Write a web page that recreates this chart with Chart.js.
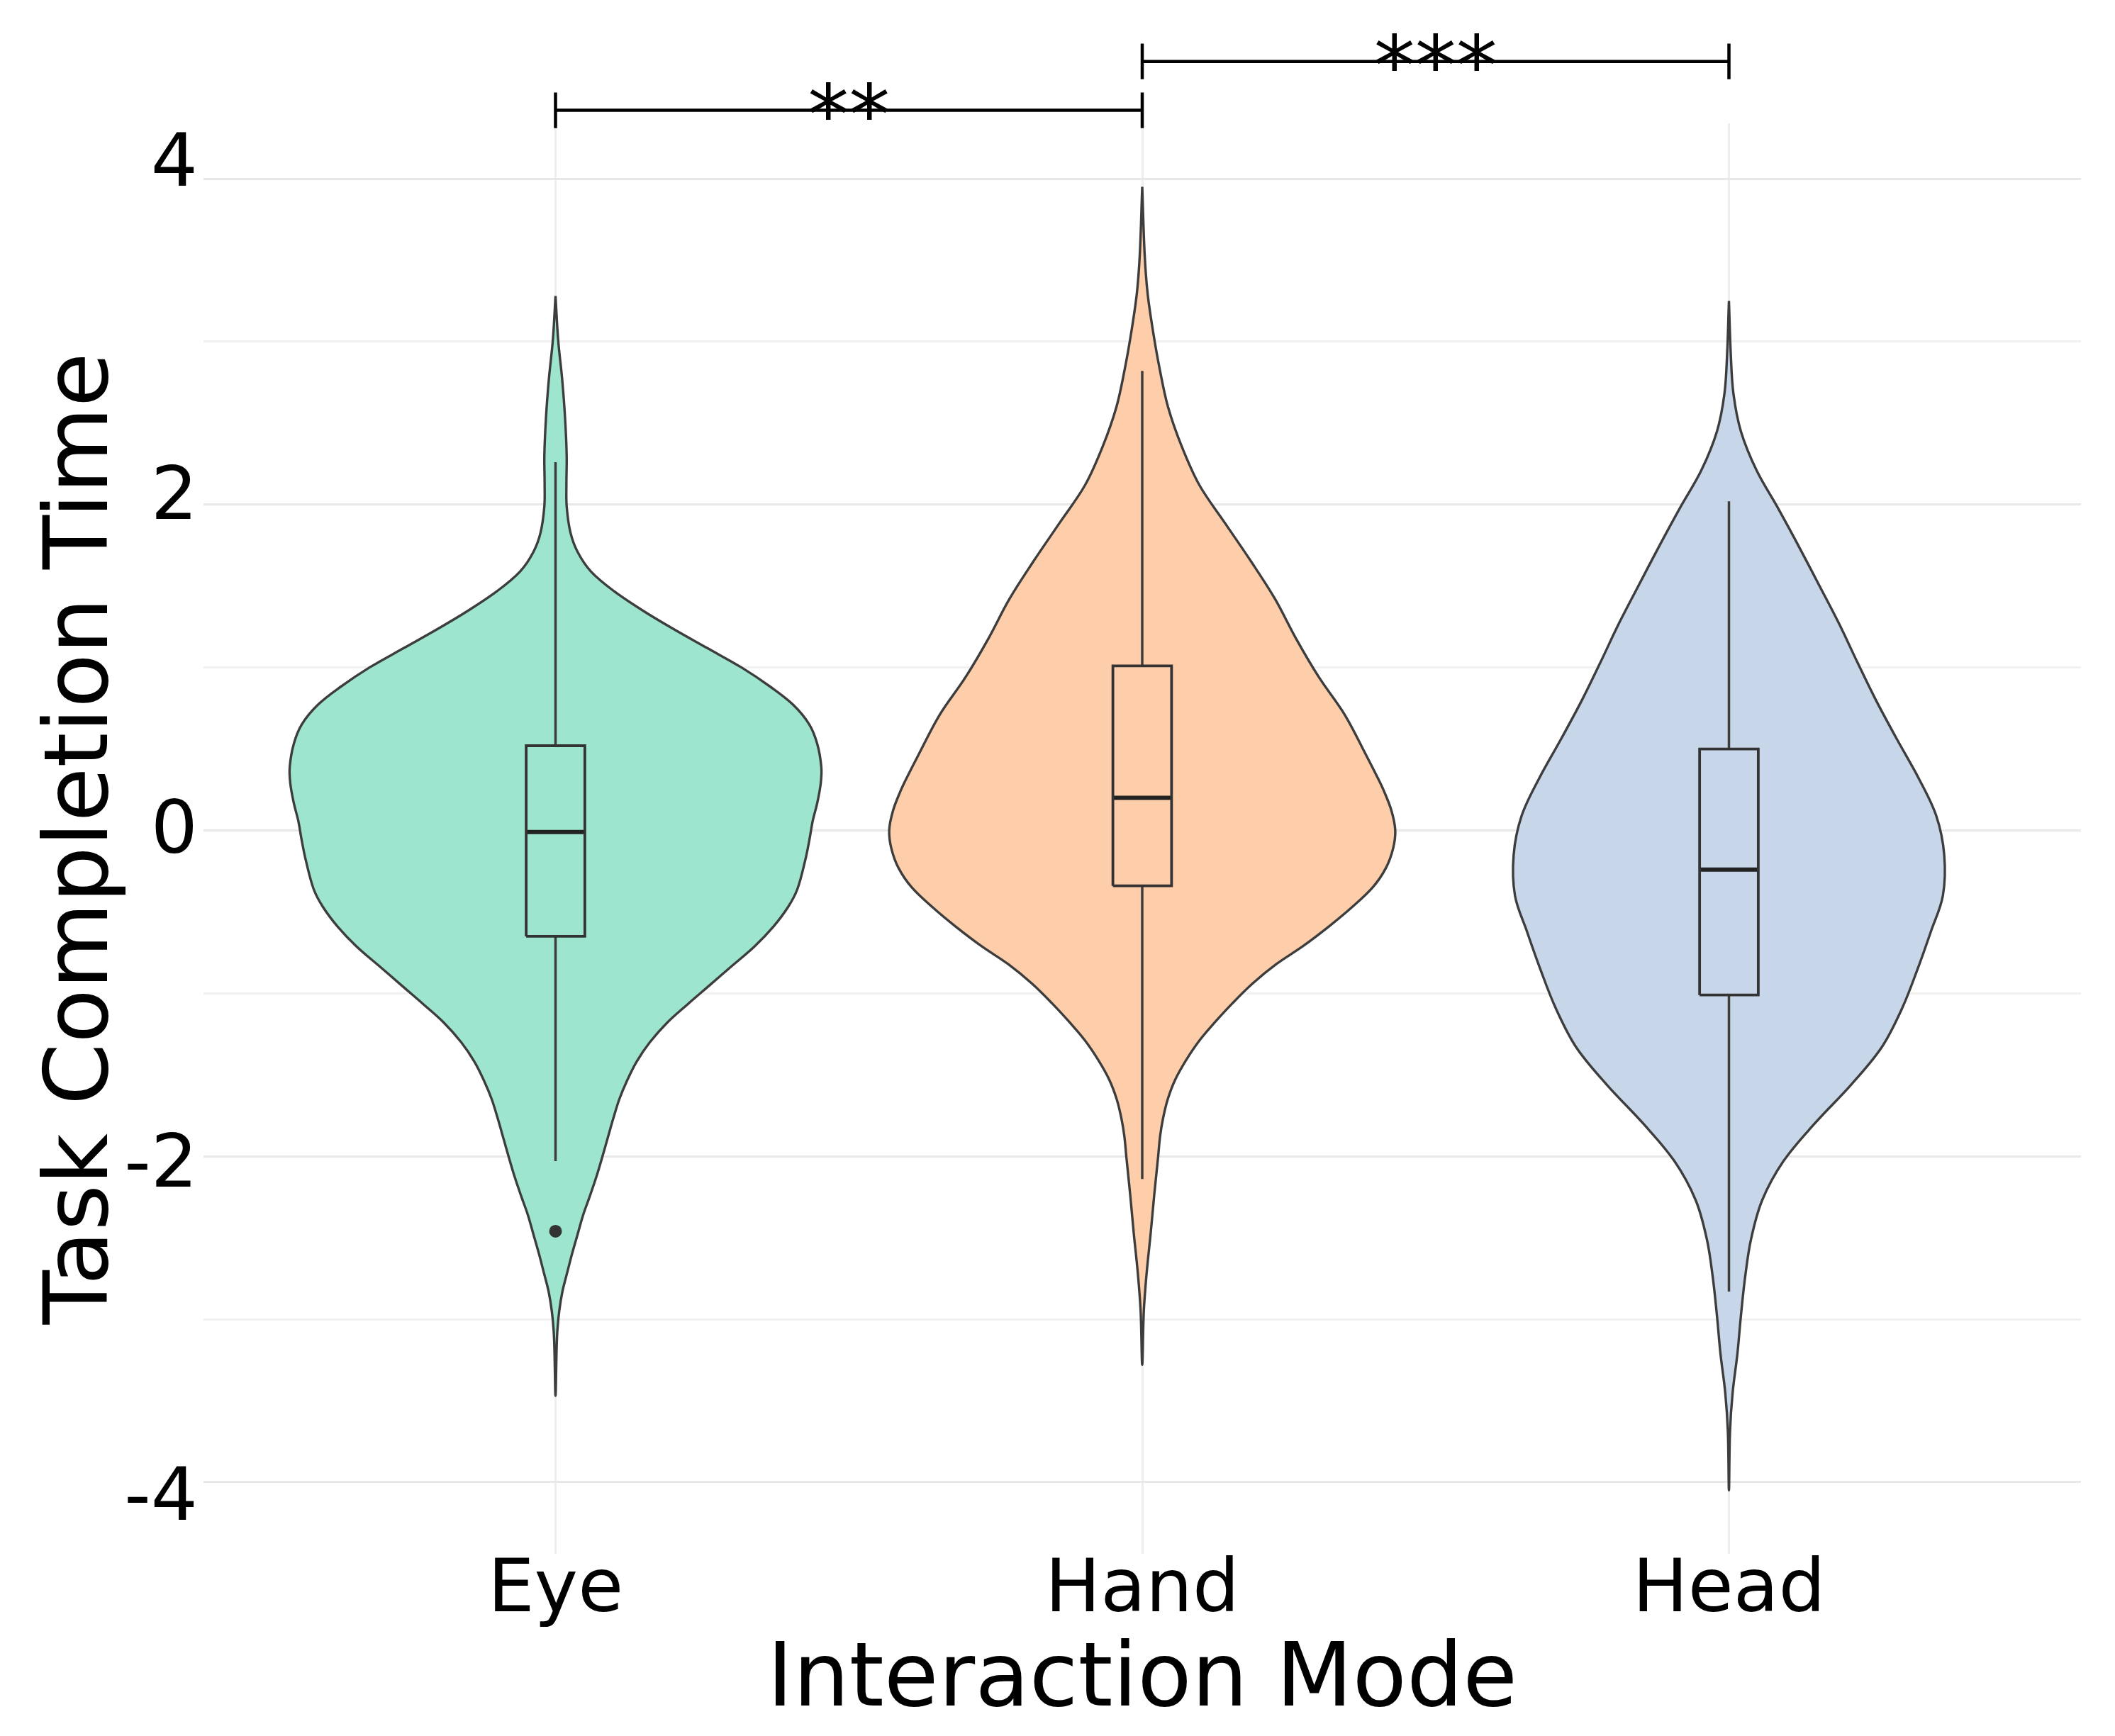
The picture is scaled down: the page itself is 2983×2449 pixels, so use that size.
<!DOCTYPE html>
<html>
<head>
<meta charset="utf-8">
<title>Task Completion Time by Interaction Mode</title>
<script src="https://cdn.jsdelivr.net/npm/chart.js@4.4.1/dist/chart.umd.min.js"></script>
<style>
  html, body { margin: 0; padding: 0; background: #fff; overflow: hidden; }
</style>
</head>
<body>
<canvas id="violinChart" width="2983" height="2449"></canvas>
<script>
// categories and axis ticks
const categories = ['Eye', 'Hand', 'Head'];
const yTicks = [-4, -3, -2, -1, 0, 1, 2, 3, 4];

// violin outlines: y levels (top -> bottom) and relative density at each level
const eyeLevels = [3.28, 3.01, 2.77, 2.53, 2.30, 2.13, 1.99, 1.83, 1.71, 1.59, 1.47, 1.35, 1.24, 1.12, 1.00, 0.88, 0.77, 0.65, 0.53, 0.39, 0.29, 0.17, 0.06, -0.06, -0.18, -0.36, -0.47, -0.59, -0.71, -0.83, -0.95, -1.07, -1.18, -1.30, -1.42, -1.54, -1.65, -1.77, -1.89, -2.01, -2.13, -2.25, -2.36, -2.48, -2.60, -2.72, -2.83, -2.95, -3.07, -3.19, -3.47];
const eyeDensity = [0, 0.010, 0.025, 0.036, 0.042, 0.041, 0.042, 0.056, 0.083, 0.133, 0.219, 0.328, 0.440, 0.570, 0.700, 0.810, 0.895, 0.955, 0.985, 1.0, 0.998, 0.985, 0.968, 0.955, 0.940, 0.910, 0.875, 0.820, 0.750, 0.665, 0.580, 0.495, 0.420, 0.355, 0.305, 0.268, 0.240, 0.217, 0.196, 0.175, 0.153, 0.128, 0.104, 0.083, 0.062, 0.043, 0.026, 0.014, 0.007, 0.004, 0];

const handLevels = [3.95, 3.54, 3.30, 3.07, 2.83, 2.60, 2.36, 2.12, 1.89, 1.65, 1.42, 1.18, 0.94, 0.71, 0.47, 0.31, 0.24, 0.12, 0.00, -0.11, -0.23, -0.35, -0.47, -0.59, -0.71, -0.82, -0.94, -1.06, -1.18, -1.29, -1.41, -1.53, -1.65, -1.77, -1.88, -2.00, -2.24, -2.47, -2.71, -2.95, -3.28];
const handDensity = [0, 0.009, 0.020, 0.040, 0.066, 0.097, 0.148, 0.215, 0.310, 0.410, 0.500, 0.578, 0.665, 0.762, 0.840, 0.890, 0.910, 0.938, 0.952, 0.944, 0.917, 0.867, 0.790, 0.702, 0.605, 0.505, 0.415, 0.340, 0.272, 0.215, 0.165, 0.124, 0.096, 0.078, 0.067, 0.060, 0.045, 0.032, 0.017, 0.006, 0];

const headLevels = [3.25, 2.92, 2.68, 2.45, 2.21, 1.98, 1.74, 1.50, 1.27, 1.03, 0.80, 0.56, 0.32, 0.09, -0.15, -0.40, -0.62, -0.85, -1.09, -1.33, -1.56, -1.80, -2.03, -2.27, -2.51, -2.74, -2.98, -3.21, -3.45, -3.69, -4.05];
const headDensity = [0, 0.007, 0.017, 0.045, 0.104, 0.184, 0.264, 0.341, 0.414, 0.484, 0.553, 0.632, 0.714, 0.780, 0.810, 0.805, 0.760, 0.710, 0.652, 0.575, 0.460, 0.322, 0.205, 0.125, 0.083, 0.061, 0.045, 0.032, 0.014, 0.004, 0];

// box plot stats (Eye, Hand, Head)
const boxQ1 = [-0.65, -0.34, -1.01];
const boxMedian = [-0.01, 0.20, -0.24];
const boxQ3 = [0.52, 1.01, 0.50];
const whiskerLow = [-2.03, -2.14, -2.83];
const whiskerHigh = [2.26, 2.82, 2.02];

// outliers
const outlierCategory = [0];
const outlierValue = [-2.46];

// significance brackets
const sigPairs = [[0, 1], [1, 2]];
const sigLabels = ['**', '***'];
const sigLevels = [4.42, 4.72];

// styles
const FONT = "'DejaVu Sans', Verdana, sans-serif";
const FILL_COLORS = ['#9de5cf', '#fecdaa', '#c8d6ea'];
const VIOLIN_HALF = 0.453;   // half width of the widest violin, in category units
const BOX_HALF = 0.05;
const BRACKET_TICK = 0.109;

const allLevels = [eyeLevels, handLevels, headLevels];
const allDensity = [eyeDensity, handDensity, headDensity];

function violinPoints(center, levels, density) {
    const right = levels.map((v, i) => ({ x: center + density[i] * VIOLIN_HALF, y: v }));
    const left = [];
    for (let i = levels.length - 2; i >= 0; i--) {
        left.push({ x: center - density[i] * VIOLIN_HALF, y: levels[i] });
    }
    return right.concat(left);
}

function buildDatasets() {
    const sets = [];

    categories.forEach((cat, i) => {
        sets.push({
            label: cat + ' violin',
            data: violinPoints(i, allLevels[i], allDensity[i]),
            borderColor: '#3d3d3d',
            borderWidth: 3.4,
            backgroundColor: FILL_COLORS[i],
            fill: 'shape',
            tension: 0.35,
            pointRadius: 0,
            order: 3
        });

        sets.push({
            label: cat + ' box',
            data: [
                { x: i - BOX_HALF, y: boxQ1[i] },
                { x: i + BOX_HALF, y: boxQ1[i] },
                { x: i + BOX_HALF, y: boxQ3[i] },
                { x: i - BOX_HALF, y: boxQ3[i] },
                { x: i - BOX_HALF, y: boxQ1[i] }
            ],
            borderColor: '#333',
            borderWidth: 3.8,
            fill: false,
            tension: 0,
            pointRadius: 0,
            order: 1
        });

        sets.push({
            label: cat + ' median',
            data: [{ x: i - BOX_HALF, y: boxMedian[i] }, { x: i + BOX_HALF, y: boxMedian[i] }],
            borderColor: '#222',
            borderWidth: 6,
            fill: false,
            tension: 0,
            pointRadius: 0,
            order: 1
        });

        sets.push({
            label: cat + ' upper whisker',
            data: [{ x: i, y: boxQ3[i] }, { x: i, y: whiskerHigh[i] }],
            borderColor: '#3d3d3d',
            borderWidth: 3.5,
            fill: false,
            pointRadius: 0,
            order: 1
        });

        sets.push({
            label: cat + ' lower whisker',
            data: [{ x: i, y: boxQ1[i] }, { x: i, y: whiskerLow[i] }],
            borderColor: '#3d3d3d',
            borderWidth: 3.5,
            fill: false,
            pointRadius: 0,
            order: 1
        });
    });

    sets.push({
        label: 'outliers',
        data: outlierValue.map((v, k) => ({ x: outlierCategory[k], y: v })),
        showLine: false,
        pointRadius: 9,
        pointBackgroundColor: '#333',
        pointBorderWidth: 0,
        order: 0
    });

    sigPairs.forEach((pair, k) => {
        const a = pair[0], b = pair[1], L = sigLevels[k];
        sets.push({
            label: 'bracket ' + sigLabels[k],
            data: [
                { x: a, y: L + BRACKET_TICK },
                { x: a, y: L - BRACKET_TICK },
                { x: a, y: L },
                { x: b, y: L },
                { x: b, y: L + BRACKET_TICK },
                { x: b, y: L - BRACKET_TICK }
            ],
            borderColor: '#000',
            borderWidth: 4.5,
            fill: false,
            tension: 0,
            pointRadius: 0,
            clip: false,
            order: 0
        });
    });

    return sets;
}

// draws the ** / *** text above each bracket
const sigTextPlugin = {
    id: 'sigText',
    afterDatasetsDraw(chart) {
        const { ctx, scales: { x, y } } = chart;
        ctx.save();
        ctx.font = '116px ' + FONT;
        ctx.fillStyle = '#000';
        ctx.textAlign = 'center';
        ctx.textBaseline = 'alphabetic';
        sigPairs.forEach((pair, k) => {
            const px = x.getPixelForValue((pair[0] + pair[1]) / 2);
            const py = y.getPixelForValue(sigLevels[k]);
            ctx.fillText(sigLabels[k], px, py + 46);
        });
        ctx.restore();
    }
};

const ctx = document.getElementById('violinChart').getContext('2d');

new Chart(ctx, {
    type: 'line',
    data: { datasets: buildDatasets() },
    options: {
        responsive: false,
        devicePixelRatio: 1,
        animation: false,
        layout: { padding: { top: 174, right: 48, left: 0, bottom: 0 } },
        plugins: {
            legend: { display: false },
            tooltip: { enabled: false }
        },
        elements: { point: { radius: 0, hitRadius: 0 } },
        scales: {
            x: {
                type: 'linear',
                min: -0.6,
                max: 2.6,
                afterBuildTicks: scale => { scale.ticks = categories.map((c, i) => ({ value: i })); },
                afterFit: scale => { scale.height = 257; },
                grid: { color: '#eeeeee', lineWidth: 3, drawTicks: false },
                border: { display: false },
                ticks: {
                    autoSkip: false,
                    maxRotation: 0,
                    padding: 2,
                    color: '#000',
                    font: { family: FONT, size: 104, lineHeight: 1.0 },
                    callback: (value) => categories[value]
                },
                title: {
                    display: true,
                    text: 'Interaction Mode',
                    color: '#000',
                    font: { family: FONT, size: 125 },
                    padding: { top: 0, bottom: 0 }
                }
            },
            // value axis: carries the grid and the title
            y: {
                type: 'linear',
                position: 'left',
                weight: 1,
                min: -4.44,
                max: 4.34,
                afterBuildTicks: scale => { scale.ticks = yTicks.map(v => ({ value: v })); },
                afterFit: scale => { scale.width = 160; },
                grid: {
                    color: c => (c.tick && c.tick.value % 2 === 0 ? '#e8e8e8' : '#f1f1f1'),
                    lineWidth: 3,
                    drawTicks: false
                },
                border: { display: false },
                ticks: { display: false },
                title: {
                    display: true,
                    text: 'Task Completion Time',
                    color: '#000',
                    font: { family: FONT, size: 125 },
                    padding: { top: 44, bottom: 0 }
                }
            },
            // tick labels sit slightly spread from the grid lines in the source figure
            yLabels: {
                type: 'linear',
                position: 'left',
                weight: 0,
                min: -4.318,
                max: 4.258,
                afterBuildTicks: scale => { scale.ticks = yTicks.filter(v => v % 2 === 0).map(v => ({ value: v })); },
                afterFit: scale => { scale.width = 127; },
                grid: { display: false, drawTicks: false },
                border: { display: false },
                ticks: {
                    autoSkip: false,
                    padding: 8,
                    color: '#000',
                    font: { family: FONT, size: 104 },
                    callback: (value) => String(value)
                }
            }
        }
    },
    plugins: [sigTextPlugin]
});
</script>
</body>
</html>
